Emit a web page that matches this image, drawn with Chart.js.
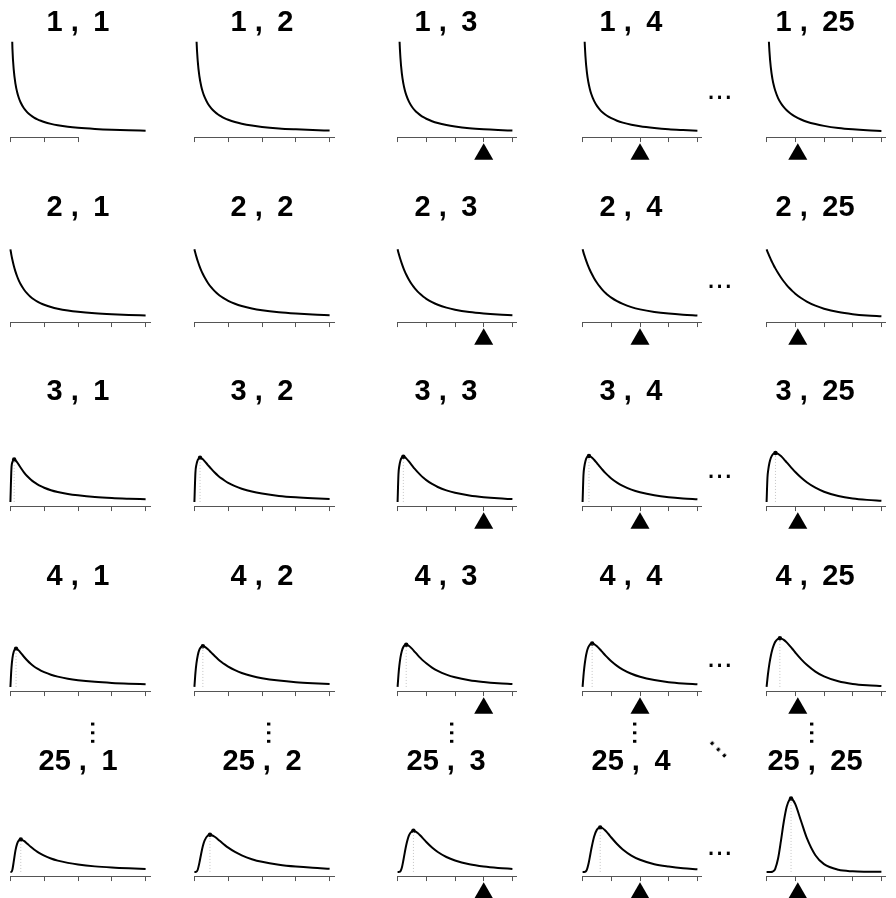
<!DOCTYPE html>
<html>
<head>
<meta charset="utf-8">
<title>F distribution grid</title>
<script src="https://cdn.jsdelivr.net/npm/chart.js@4.4.0/dist/chart.umd.min.js"></script>
<style>
  html, body { margin: 0; background: #fff; }
  body { position: relative; width: 896px; height: 898px; overflow: hidden; font-family: "Liberation Sans", Arial, sans-serif; }
  .panel { position: absolute; }
  .dots { position: absolute; width: 26px; font-size: 31px; line-height: 31px; text-align: center; white-space: nowrap; color: #000; transform-origin: 13px 24.7px; }
</style>
</head>
<body>
<div id="grid"></div>
<script>
// numerator df down the rows, denominator df across the columns
var rowDf = [1, 2, 3, 4, 25];
var colDf = [1, 2, 3, 4, 25];

var xs = [0, 0.03, 0.06, 0.1, 0.15, 0.2, 0.25, 0.3, 0.4, 0.5, 0.6, 0.7, 0.8, 0.9, 1, 1.2, 1.4, 1.7, 2, 2.5, 3, 3.5, 4];
var tickValues = [0, 1, 2, 3, 4];
var shortTicks = [0, 1, 2];

// density values on xs, one line per column
var dens1 = [
  [null, 1.784, 1.226, 0.915, 0.715, 0.593, 0.509, 0.447, 0.359, 0.300, 0.257, 0.224, 0.198, 0.177, 0.159, 0.132, 0.112, 0.090, 0.075, 0.058, 0.046, 0.038, 0.032],
  [null, 1.996, 1.381, 1.039, 0.819, 0.685, 0.593, 0.524, 0.425, 0.358, 0.308, 0.269, 0.239, 0.213, 0.192, 0.159, 0.135, 0.108, 0.088, 0.066, 0.052, 0.041, 0.034],
  [null, 2.080, 1.442, 1.088, 0.861, 0.722, 0.626, 0.555, 0.452, 0.382, 0.330, 0.289, 0.256, 0.229, 0.207, 0.171, 0.144, 0.115, 0.094, 0.069, 0.053, 0.042, 0.034],
  [null, 2.125, 1.475, 1.115, 0.883, 0.742, 0.645, 0.571, 0.467, 0.395, 0.341, 0.299, 0.266, 0.238, 0.215, 0.178, 0.150, 0.119, 0.096, 0.071, 0.053, 0.042, 0.033],
  [null, 2.245, 1.563, 1.186, 0.944, 0.796, 0.694, 0.618, 0.508, 0.432, 0.375, 0.330, 0.293, 0.263, 0.237, 0.196, 0.164, 0.129, 0.103, 0.072, 0.052, 0.038, 0.029]
];
var dens2 = [
  [1, 0.916, 0.844, 0.761, 0.675, 0.604, 0.544, 0.494, 0.414, 0.354, 0.306, 0.269, 0.239, 0.213, 0.193, 0.160, 0.135, 0.108, 0.089, 0.068, 0.054, 0.044, 0.037],
  [1, 0.943, 0.890, 0.826, 0.756, 0.694, 0.640, 0.592, 0.510, 0.444, 0.391, 0.346, 0.309, 0.277, 0.250, 0.207, 0.174, 0.137, 0.111, 0.082, 0.063, 0.049, 0.040],
  [1, 0.952, 0.907, 0.851, 0.788, 0.731, 0.680, 0.634, 0.554, 0.487, 0.431, 0.384, 0.344, 0.309, 0.279, 0.230, 0.192, 0.150, 0.120, 0.086, 0.064, 0.049, 0.039],
  [1, 0.956, 0.915, 0.864, 0.805, 0.751, 0.702, 0.658, 0.579, 0.512, 0.455, 0.406, 0.364, 0.328, 0.296, 0.244, 0.204, 0.158, 0.125, 0.088, 0.064, 0.048, 0.037],
  [1, 0.968, 0.937, 0.898, 0.851, 0.807, 0.765, 0.726, 0.654, 0.589, 0.531, 0.479, 0.433, 0.391, 0.354, 0.290, 0.239, 0.179, 0.135, 0.085, 0.055, 0.036, 0.024]
];
var dens3 = [
  [0, 0.482, 0.582, 0.619, 0.609, 0.578, 0.540, 0.502, 0.432, 0.374, 0.327, 0.288, 0.256, 0.229, 0.207, 0.171, 0.145, 0.116, 0.096, 0.072, 0.057, 0.047, 0.039],
  [0, 0.428, 0.544, 0.614, 0.643, 0.640, 0.622, 0.596, 0.538, 0.481, 0.429, 0.383, 0.343, 0.309, 0.279, 0.230, 0.193, 0.151, 0.122, 0.088, 0.067, 0.053, 0.043],
  [0, 0.404, 0.524, 0.605, 0.648, 0.659, 0.652, 0.635, 0.587, 0.534, 0.481, 0.434, 0.391, 0.352, 0.318, 0.262, 0.218, 0.169, 0.133, 0.094, 0.069, 0.052, 0.041],
  [0, 0.390, 0.511, 0.598, 0.650, 0.668, 0.667, 0.656, 0.615, 0.565, 0.514, 0.465, 0.420, 0.380, 0.343, 0.282, 0.234, 0.179, 0.140, 0.096, 0.068, 0.050, 0.038],
  [0, 0.352, 0.473, 0.571, 0.644, 0.685, 0.706, 0.713, 0.700, 0.668, 0.625, 0.577, 0.529, 0.482, 0.437, 0.356, 0.287, 0.207, 0.149, 0.086, 0.050, 0.030, 0.018]
];
var dens4 = [
  [0, 0.271, 0.420, 0.517, 0.556, 0.552, 0.530, 0.501, 0.440, 0.385, 0.338, 0.298, 0.266, 0.238, 0.215, 0.178, 0.150, 0.120, 0.099, 0.075, 0.059, 0.048, 0.040],
  [0, 0.202, 0.342, 0.463, 0.546, 0.583, 0.593, 0.586, 0.549, 0.500, 0.451, 0.405, 0.364, 0.328, 0.296, 0.244, 0.204, 0.160, 0.128, 0.093, 0.070, 0.055, 0.044],
  [0, 0.174, 0.306, 0.430, 0.528, 0.583, 0.609, 0.616, 0.597, 0.558, 0.511, 0.464, 0.420, 0.380, 0.344, 0.282, 0.234, 0.180, 0.141, 0.098, 0.072, 0.054, 0.042],
  [0, 0.160, 0.285, 0.410, 0.515, 0.579, 0.614, 0.630, 0.625, 0.593, 0.549, 0.503, 0.457, 0.414, 0.375, 0.307, 0.253, 0.192, 0.148, 0.100, 0.070, 0.051, 0.038],
  [0, 0.121, 0.226, 0.343, 0.459, 0.547, 0.611, 0.657, 0.703, 0.708, 0.686, 0.649, 0.603, 0.553, 0.502, 0.406, 0.323, 0.224, 0.154, 0.082, 0.044, 0.024, 0.013]
];
var dens25 = [
  [0, 0.001, 0.035, 0.157, 0.315, 0.413, 0.459, 0.472, 0.452, 0.411, 0.367, 0.328, 0.293, 0.263, 0.237, 0.196, 0.165, 0.132, 0.108, 0.081, 0.064, 0.052, 0.043],
  [0, 0, 0.003, 0.036, 0.139, 0.266, 0.377, 0.457, 0.533, 0.539, 0.513, 0.474, 0.432, 0.391, 0.354, 0.291, 0.241, 0.186, 0.147, 0.105, 0.078, 0.060, 0.048],
  [0, 0, 0.001, 0.011, 0.065, 0.166, 0.282, 0.390, 0.536, 0.594, 0.596, 0.568, 0.527, 0.482, 0.437, 0.356, 0.291, 0.218, 0.167, 0.112, 0.079, 0.058, 0.044],
  [0, 0, 0, 0.004, 0.034, 0.107, 0.212, 0.325, 0.513, 0.617, 0.649, 0.637, 0.600, 0.553, 0.502, 0.407, 0.328, 0.239, 0.177, 0.113, 0.078, 0.053, 0.038],
  [0, 0, 0, 0, 0, 0.003, 0.015, 0.046, 0.195, 0.453, 0.735, 0.950, 1.057, 1.060, 0.987, 0.742, 0.496, 0.243, 0.113, 0.031, 0.009, 0.003, 0.001]
];
var densRows = [dens1, dens2, dens3, dens4, dens25];

// peak of each curve (only drawn when numerator df > 2)
var modeX = [null, null,
  [0.111, 0.167, 0.2, 0.222, 0.309],
  [0.167, 0.25, 0.3, 0.333, 0.463],
  [0.307, 0.46, 0.552, 0.613, 0.852]];
var modeY = [null, null,
  [0.620, 0.644, 0.659, 0.669, 0.713],
  [0.558, 0.593, 0.616, 0.633, 0.710],
  [0.473, 0.543, 0.600, 0.649, 1.070]];

// mean marker per column (exists when denominator df > 2)
var meanX = [null, null, 3, 2, 1.087];

var unitPx = 33.8;
var colLeft = [10, 194.3, 378.7, 563, 747.3];
var rowTop = [0, 184.7, 369.3, 554, 738.6];
var axisColor = '#555';
var markY = -0.31;

var axisLine = {
  id: 'axisLine',
  afterDatasetsDraw: function (chart, args, opts) {
    var sx = chart.scales.x;
    var y = Math.round(chart.chartArea.bottom) + 0.5;
    var ctx = chart.ctx;
    ctx.save();
    ctx.strokeStyle = axisColor;
    ctx.lineWidth = 1;
    ctx.beginPath();
    ctx.moveTo(sx.getPixelForValue(0), y);
    ctx.lineTo(sx.getPixelForValue(opts.end), y);
    ctx.stroke();
    ctx.restore();
  }
};

function curvePoints(ys, mx, my) {
  var pts = [];
  xs.forEach(function (x, i) {
    if (ys[i] !== null) pts.push({ x: x, y: ys[i] });
  });
  if (mx != null && !xs.some(function (x) { return Math.abs(x - mx) < 0.005; })) {
    pts.push({ x: mx, y: my });
    pts.sort(function (a, b) { return a.x - b.x; });
  }
  return pts;
}

var grid = document.getElementById('grid');

rowDf.forEach(function (d1, r) {
  colDf.forEach(function (d2, c) {
    var canvas = document.createElement('canvas');
    canvas.width = 184;
    canvas.height = 184;
    canvas.className = 'panel';
    canvas.style.left = (colLeft[c] - 0.16 * unitPx - 10) + 'px';
    canvas.style.top = rowTop[r] + 'px';
    grid.appendChild(canvas);

    var mx = modeX[r] ? modeX[r][c] : null;
    var my = modeY[r] ? modeY[r][c] : null;
    var first = r === 0 && c === 0;
    var ticks = first ? shortTicks : tickValues;

    var datasets = [{
      data: curvePoints(densRows[r][c], mx, my),
      borderColor: '#000',
      borderWidth: 2,
      pointRadius: 0,
      cubicInterpolationMode: 'monotone',
      clip: { left: 5, right: 5, top: 0, bottom: 5 }
    }];

    if (mx != null) {
      datasets.push({
        data: [{ x: mx, y: 0 }, { x: mx, y: my }],
        borderColor: '#c4c4c4',
        borderWidth: 1,
        borderDash: [1, 2],
        pointRadius: 0
      });
      datasets.push({
        data: [{ x: mx, y: my }],
        showLine: false,
        pointRadius: 2.2,
        pointBackgroundColor: '#000',
        pointBorderWidth: 0
      });
    }

    if (meanX[c] != null) {
      datasets.push({
        data: [{ x: meanX[c], y: markY }],
        showLine: false,
        pointStyle: 'triangle',
        pointRadius: 11,
        pointHoverRadius: 30,
        pointBackgroundColor: '#000',
        pointBorderWidth: 0,
        clip: false
      });
    }

    new Chart(canvas, {
      type: 'line',
      data: { datasets: datasets },
      plugins: [axisLine],
      options: {
        responsive: false,
        animation: false,
        devicePixelRatio: 1,
        events: [],
        layout: { padding: { left: 10, right: 184 - 10 - 4.32 * unitPx, top: 0, bottom: 41.95 } },
        scales: {
          x: {
            type: 'linear',
            min: -0.16,
            max: 4.16,
            border: { display: false },
            grid: { drawOnChartArea: false, drawTicks: true, tickLength: 5, color: axisColor, lineWidth: 1 },
            ticks: { display: false },
            afterBuildTicks: function (axis) {
              axis.ticks = ticks.map(function (v) { return { value: v }; });
            }
          },
          y: { min: -0.06, max: 1.33, display: false }
        },
        plugins: {
          legend: { display: false },
          tooltip: { enabled: false },
          axisLine: { end: first ? 2 : 4.16 },
          title: {
            display: true,
            text: d1 + ' ,\u2002' + d2,
            color: '#000',
            font: { family: '"Liberation Sans", Arial, sans-serif', size: 29, weight: 'bold', lineHeight: 1.2 },
            padding: { top: 5.6, bottom: 1.3 }
          }
        }
      }
    });
  });
});

// ellipses between the fourth and last column, and between the fourth and last row
function addDots(cx, cy, angle) {
  var el = document.createElement('div');
  el.className = 'dots';
  el.textContent = '...';
  el.style.left = (cx - 13) + 'px';
  el.style.top = (cy - 24.7) + 'px';
  if (angle) el.style.transform = 'rotate(' + angle + 'deg)';
  document.body.appendChild(el);
}

[98, 287, 477, 666, 854].forEach(function (y) { addDots(719.6, y, 0); });
[91.7, 268, 451, 634, 811].forEach(function (x) { addDots(x, 733, 90); });
addDots(718, 750, 45);
</script>
</body>
</html>
